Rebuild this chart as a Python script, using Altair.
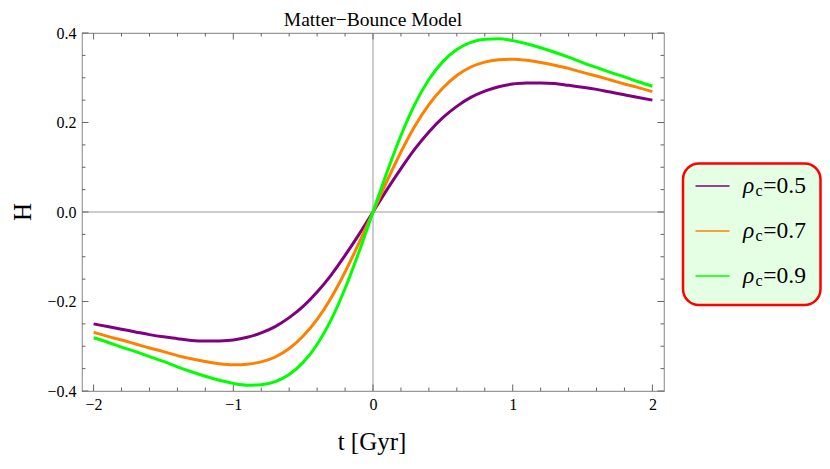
import altair as alt
import pandas as pd

SERIF = "Liberation Serif, Times New Roman, serif"

# ---- data ----
t_vals = [-2.0, -1.9, -1.8, -1.7, -1.6, -1.5, -1.4, -1.3, -1.2, -1.1, -1.0,
          -0.9, -0.8, -0.7, -0.6, -0.5, -0.4, -0.3, -0.2, -0.1, 0.0,
          0.1, 0.2, 0.3, 0.4, 0.5, 0.6, 0.7, 0.8, 0.9, 1.0,
          1.1, 1.2, 1.3, 1.4, 1.5, 1.6, 1.7, 1.8, 1.9, 2.0]

h_rho05 = [-0.250, -0.256, -0.262, -0.268, -0.274, -0.279, -0.283, -0.287, -0.2885, -0.288, -0.286,
           -0.280, -0.270, -0.256, -0.236, -0.211, -0.179, -0.141, -0.097, -0.050, 0.0,
           0.050, 0.097, 0.141, 0.179, 0.211, 0.236, 0.256, 0.270, 0.280, 0.286,
           0.288, 0.2885, 0.287, 0.283, 0.279, 0.274, 0.268, 0.262, 0.256, 0.250]

h_rho07 = [-0.269, -0.278, -0.286, -0.295, -0.304, -0.312, -0.321, -0.328, -0.334, -0.339, -0.3415,
           -0.340, -0.335, -0.324, -0.305, -0.277, -0.240, -0.192, -0.134, -0.069, 0.0,
           0.069, 0.134, 0.192, 0.240, 0.277, 0.305, 0.324, 0.335, 0.340, 0.3415,
           0.339, 0.334, 0.328, 0.321, 0.312, 0.304, 0.295, 0.286, 0.278, 0.269]

h_rho09 = [-0.281, -0.291, -0.302, -0.312, -0.323, -0.334, -0.346, -0.357, -0.367, -0.376, -0.383,
           -0.387, -0.386, -0.379, -0.363, -0.336, -0.296, -0.241, -0.171, -0.089, 0.0,
           0.089, 0.171, 0.241, 0.296, 0.336, 0.363, 0.379, 0.386, 0.387, 0.383,
           0.376, 0.367, 0.357, 0.346, 0.334, 0.323, 0.312, 0.302, 0.291, 0.281]

rho_labels = ["0.5", "0.7", "0.9"]
series_colors = ["#800080", "#FF8000", "#00FF00"]

x_major = [-2, -1, 0, 1, 2]
x_minor = [-1.8, -1.6, -1.4, -1.2, -0.8, -0.6, -0.4, -0.2,
           0.2, 0.4, 0.6, 0.8, 1.2, 1.4, 1.6, 1.8]
y_major = [-0.4, -0.2, 0.0, 0.2, 0.4]
y_minor = [-0.35, -0.3, -0.25, -0.15, -0.1, -0.05,
           0.05, 0.1, 0.15, 0.25, 0.3, 0.35]

title_text = "Matter\u2212Bounce Model"
x_title = "t [Gyr]"
y_title = "H"

# ---- layout ----
W, H = 582, 358
PAD_L, PAD_T = 74, 25
SVG_W, SVG_H = 814, 448
FRAME = "#999999"
TICK = "#666666"

rows = []
for lab, hs in zip(rho_labels, [h_rho05, h_rho07, h_rho09]):
    for t, h in zip(t_vals, hs):
        rows.append({"t": t, "H": h, "rho": lab})
df = pd.DataFrame(rows)

xs = alt.Scale(domain=[-2.083, 2.083], nice=False, zero=False)
ys = alt.Scale(domain=[-0.4, 0.4], nice=False, zero=False)

xaxis = alt.Axis(values=x_major, format="d", ticks=False, domain=False, grid=False,
                 labelFont=SERIF, labelFontSize=16, labelColor="black",
                 labelPadding=5, title=None)
yaxis = alt.Axis(values=y_major, format=".1f", ticks=False, domain=False, grid=False,
                 labelFont=SERIF, labelFontSize=16, labelColor="black",
                 labelPadding=6, title=None)

def X():
    return alt.X("t:Q", scale=xs, axis=xaxis)

def Y():
    return alt.Y("H:Q", scale=ys, axis=yaxis)

curves = alt.Chart(df).mark_line(strokeWidth=3, interpolate="monotone").encode(
    x=X(), y=Y(),
    color=alt.Color("rho:N", scale=alt.Scale(domain=rho_labels, range=series_colors), legend=None),
)

zero_v = alt.Chart(pd.DataFrame({"t": [0.0]})).mark_rule(color=FRAME, strokeWidth=1).encode(x=X())
zero_h = alt.Chart(pd.DataFrame({"H": [0.0]})).mark_rule(color=FRAME, strokeWidth=1).encode(y=Y())

def xticks(vals, length):
    d = pd.DataFrame({"t": vals})
    bot = alt.Chart(d).mark_rule(color=TICK, strokeWidth=1).encode(
        x=X(), y=alt.value(H), y2=alt.value(H - length))
    top = alt.Chart(d).mark_rule(color=TICK, strokeWidth=1).encode(
        x=X(), y=alt.value(0), y2=alt.value(length))
    return [bot, top]

def yticks(vals, length):
    d = pd.DataFrame({"H": vals})
    left = alt.Chart(d).mark_rule(color=TICK, strokeWidth=1).encode(
        y=Y(), x=alt.value(0), x2=alt.value(length))
    right = alt.Chart(d).mark_rule(color=TICK, strokeWidth=1).encode(
        y=Y(), x=alt.value(W), x2=alt.value(W - length))
    return [left, right]

ticks = xticks(x_major, 6.5) + xticks(x_minor, 3.5) + yticks(y_major, 6.5) + yticks(y_minor, 3.5)

one = pd.DataFrame({"k": [0]})

# page coordinates -> plot coordinates
def px(x):
    return x - 8 - PAD_L

def py(y):
    return y - 8 - PAD_T

title = alt.Chart(one).mark_text(text=title_text, font=SERIF, fontSize=19.5, align="center",
                                 baseline="alphabetic", color="black").encode(
    x=alt.value(W / 2), y=alt.value(py(25.8)))
xlab = alt.Chart(one).mark_text(text=x_title, font=SERIF, fontSize=25, align="center",
                                baseline="alphabetic", color="black").encode(
    x=alt.value(W / 2 - 1), y=alt.value(py(450)))
ylab = alt.Chart(one).mark_text(text=y_title, font=SERIF, fontSize=25, align="center",
                                baseline="middle", angle=270, color="black").encode(
    x=alt.value(px(22.5)), y=alt.value(H / 2))

# custom legend (page positions measured on the reference)
box = alt.Chart(one).mark_rect(fill="#E4FFE4", stroke="#FF0000", strokeWidth=2.5,
                               cornerRadius=16).encode(
    x=alt.value(px(683)), x2=alt.value(px(820.5)), y=alt.value(py(163.5)), y2=alt.value(py(305)))
legend_layers = [box]
for i, (lab, col) in enumerate(zip(rho_labels, series_colors)):
    ly = py(186 + 45 * i)
    by = py(193 + 45 * i)
    legend_layers.append(alt.Chart(one).mark_rule(color=col, strokeWidth=1.3).encode(
        x=alt.value(px(695.5)), x2=alt.value(px(729.5)), y=alt.value(ly)))
    legend_layers.append(alt.Chart(one).mark_text(text="\u03c1", font=SERIF, fontSize=23.5,
                                                  fontStyle="italic", align="left",
                                                  baseline="alphabetic", color="black").encode(
        x=alt.value(px(743)), y=alt.value(by)))
    legend_layers.append(alt.Chart(one).mark_text(text="c", font=SERIF, fontSize=16,
                                                  align="left", baseline="alphabetic",
                                                  color="black").encode(
        x=alt.value(px(755.5)), y=alt.value(by + 2.5)))
    legend_layers.append(alt.Chart(one).mark_text(text="=" + lab, font=SERIF, fontSize=23.5,
                                                  align="left", baseline="alphabetic",
                                                  color="black").encode(
        x=alt.value(px(763.3)), y=alt.value(by)))

chart = alt.layer(zero_v, zero_h, *ticks, curves, title, xlab, ylab, *legend_layers).properties(
    width=W, height=H,
    padding={"left": PAD_L, "top": PAD_T, "right": SVG_W - PAD_L - W, "bottom": SVG_H - PAD_T - H},
    autosize=alt.AutoSizeParams(type="none"),
).configure_view(stroke=FRAME, strokeWidth=1.2)

chart.save("out.html", embed_options={"renderer": "svg", "actions": False})
